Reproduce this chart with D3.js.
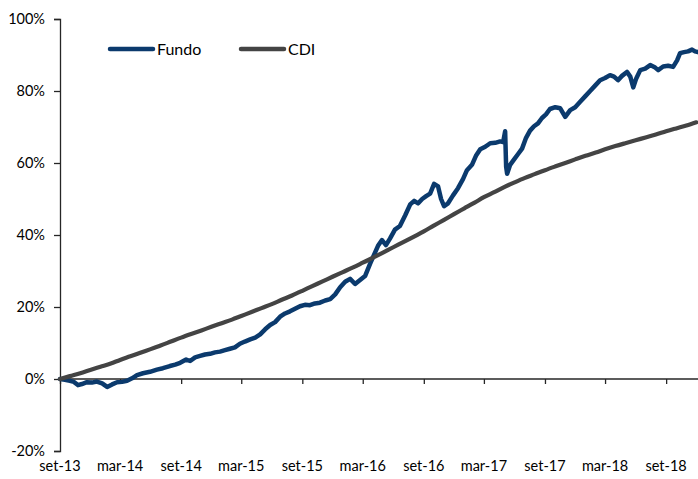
<!DOCTYPE html>
<html>
<head>
<meta charset="utf-8">
<script src="https://cdn.jsdelivr.net/npm/d3@7"></script>
<style>
  html, body { margin: 0; padding: 0; background: #fff; }
  svg { display: block; }
  text { font-family: Lato, "Open Sans", sans-serif; fill: #000; }
</style>
</head>
<body>
<svg id="chart" width="698" height="479"></svg>
<script>
// ---------- DATA ----------
const startDate = "2013-09-01";
const endDate = "2018-12-06";

const tickDates = ["2013-09-01","2014-03-01","2014-09-01","2015-03-01","2015-09-01","2016-03-01",
                   "2016-09-01","2017-03-01","2017-09-01","2018-03-01","2018-09-01"];
const tickLabels = ["set-13","mar-14","set-14","mar-15","set-15","mar-16","set-16","mar-17","set-17","mar-18","set-18"];

const yTicks = [-20, 0, 20, 40, 60, 80, 100];
const yTickLabels = ["-20%","0%","20%","40%","60%","80%","100%"];

const seriesNames = ["Fundo", "CDI"];

// CDI: cumulative return (%) at the start of each month, Sep-13 .. Dec-18
const cdiValues = [0,0.8,1.6,2.5,3.4,4.3,5.3,6.3,7.3,8.3,9.3,10.4,11.5,12.5,13.5,14.5,15.5,16.5,
  17.5,18.6,19.7,20.8,22.0,23.2,24.5,25.8,27.1,28.4,29.7,31.0,32.3,33.7,35.1,36.6,38.0,39.5,
  41.0,42.6,44.2,45.8,47.4,49.0,50.5,51.9,53.3,54.6,55.8,56.9,58.0,59.0,60.0,61.0,62.0,62.9,
  63.8,64.7,65.5,66.3,67.1,67.9,68.8,69.6,70.4,71.3];

// Fundo: days since 2013-09-01 and cumulative return (%)
const fundoDays = [0,15,30,42,54,66,81,96,111,127,142,157,172,187,202,217,232,250,271,292,310,331,
  347,362,380,392,407,422,437,452,467,482,497,512,527,542,557,573,588,603,618,633,648,663,678,693,
  708,723,738,753,768,783,799,814,829,844,859,874,889,904,919,934,946,958,970,982,994,1009,1024,
  1040,1055,1067,1079,1091,1103,1115,1127,1139,1148,1157,1169,1184,1199,1214,1226,1241,1253,1266,
  1281,1296,1311,1326,1335,1341,1344,1347,1356,1368,1380,1392,1404,1416,1428,1440,1452,1464,1476,
  1492,1507,1522,1537,1552,1567,1582,1597,1612,1627,1642,1657,1669,1681,1693,1708,1718,1727,1736,
  1748,1763,1778,1793,1802,1817,1832,1847,1859,1868,1880,1892,1904,1913,1922];
const fundoValues = [0.0,-0.2,-0.5,-0.8,-1.7,-1.4,-0.9,-1.0,-0.7,-1.2,-2.2,-1.5,-0.9,-0.8,-0.5,0.2,
  1.1,1.6,2.0,2.6,3.0,3.6,4.0,4.5,5.4,5.0,6.0,6.4,6.8,7.0,7.4,7.6,8.0,8.4,8.8,9.8,10.4,11.0,11.5,
  12.4,13.8,15.0,15.8,17.3,18.2,18.8,19.5,20.2,20.6,20.5,21.0,21.2,21.8,22.2,23.5,25.5,27.0,27.8,
  26.4,27.5,28.6,32.0,34.5,37.0,38.6,37.2,39.0,41.5,42.5,45.5,48.5,49.5,48.8,50.0,50.8,51.5,54.2,
  53.5,50.0,48.0,48.8,51.0,53.0,55.5,58.0,59.5,62.0,63.8,64.5,65.5,65.6,66.0,65.8,68.8,59.0,57.0,
  59.5,61.0,62.5,64.0,67.0,69.0,70.2,71.0,72.5,73.5,75.0,75.5,75.2,72.8,74.7,75.5,77.0,78.5,80.0,
  81.5,83.0,83.6,84.4,84.0,83.0,84.2,85.3,84.0,81.0,83.5,85.8,86.2,87.2,86.5,85.8,86.8,87.0,86.7,
  88.5,90.5,90.8,91.0,91.5,91.0,90.8];

// ---------- CHART ----------
const parse = d3.timeParse("%Y-%m-%d");
const t0 = parse(startDate);
const svg = d3.select("#chart");

const x = d3.scaleTime().domain([t0, parse(endDate)]).range([60, 698]);
const y = d3.scaleLinear().domain([-20, 100]).range([451, 19]);

const fundo = fundoDays.map((d, i) => ({ date: d3.timeDay.offset(t0, d), v: fundoValues[i] }));
const cdi = cdiValues.map((v, i) => ({ date: d3.timeMonth.offset(t0, i), v }));

const axisColor = "#262626";

// Y axis
const yAxis = d3.axisLeft(y).tickValues(yTicks).tickSize(6)
  .tickFormat((d, i) => yTickLabels[i]);
const gy = svg.append("g").attr("transform", "translate(60,0)").call(yAxis);
gy.select(".domain").attr("stroke", axisColor).attr("stroke-width", 1.3);
gy.selectAll(".tick line").attr("stroke", axisColor).attr("stroke-width", 1.3);
gy.selectAll(".tick text").attr("x", -15).attr("font-size", 14.5)
  .attr("font-family", "Lato, sans-serif").attr("fill", "#000");

// X axis at zero line (ticks only)
const xAxis = d3.axisBottom(x).tickValues(tickDates.map(parse)).tickSize(5).tickFormat("");
const gx = svg.append("g").attr("transform", `translate(0,${y(0)})`).call(xAxis);
gx.select(".domain").attr("d", `M60,0H698`).attr("stroke", axisColor).attr("stroke-width", 1.3);
gx.selectAll(".tick line").attr("stroke", axisColor).attr("stroke-width", 1.3);

// X labels at bottom
svg.append("g").selectAll("text").data(tickDates).join("text")
  .attr("x", d => x(parse(d)))
  .attr("y", 471)
  .attr("text-anchor", "middle")
  .attr("font-size", 14.5)
  .text((d, i) => tickLabels[i]);

// Lines
const line = d3.line().x(d => x(d.date)).y(d => y(d.v));
const smooth = d3.line().x(d => x(d.date)).y(d => y(d.v)).curve(d3.curveMonotoneX);

const colors = { Fundo: "#0b3a6d", CDI: "#444444" };

svg.append("path").datum(fundo)
  .attr("d", line)
  .attr("fill", "none")
  .attr("stroke", colors.Fundo)
  .attr("stroke-width", 4.5)
  .attr("stroke-linejoin", "round")
  .attr("stroke-linecap", "round");

svg.append("path").datum(cdi)
  .attr("d", smooth)
  .attr("fill", "none")
  .attr("stroke", colors.CDI)
  .attr("stroke-width", 4.2)
  .attr("stroke-linecap", "round");

// Legend
const legend = svg.append("g");
const legX = [110, 241];
seriesNames.forEach((name, i) => {
  const g = legend.append("g").attr("transform", `translate(${legX[i]},49)`);
  g.append("line").attr("x1", 0).attr("x2", 43).attr("y1", 0).attr("y2", 0)
    .attr("stroke", colors[name]).attr("stroke-width", 4.5).attr("stroke-linecap", "round");
  g.append("text").attr("x", 47).attr("y", 0).attr("dy", "0.36em")
    .attr("font-size", 16).text(name);
});
</script>
</body>
</html>
